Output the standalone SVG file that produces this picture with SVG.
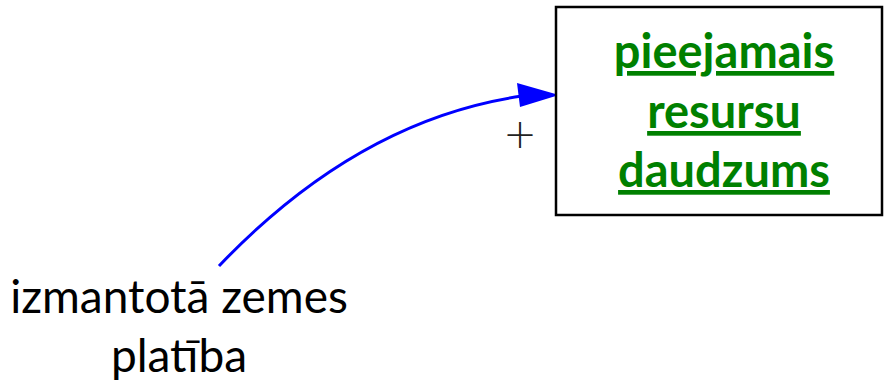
<svg xmlns="http://www.w3.org/2000/svg" width="884" height="386" viewBox="0 0 884 386">
<style>
.lbl{font-family:Lato,"Open Sans","Liberation Sans",sans-serif;font-size:46px;fill:#000;text-anchor:middle}
.stock{font-family:Lato,"Open Sans","Liberation Sans",sans-serif;font-size:47px;font-weight:bold;fill:#008000;text-anchor:middle;text-decoration:underline}
.pol{font-family:"DejaVu Sans","Liberation Sans",sans-serif;font-size:40px;font-weight:200;fill:#222;text-anchor:middle}
.box{fill:#fff;stroke:#000;stroke-width:2.5}
.link{fill:none;stroke:#0000ff;stroke-width:3}
.head{fill:#0000ff}
</style>
<rect width="884" height="386" fill="#fff"/>
<g id="connectors">
<path class="link" d="M219,266 Q358,120 522,96"/>
<polygon class="head" points="559,95 517,83 520,107"/>
<text class="pol" x="520" y="148">+</text>
</g>
<g id="node-pieejamais">
<rect class="box" x="556" y="7" width="326" height="208"/>
<text class="stock" x="724" y="68">pieejamais</text>
<text class="stock" x="724" y="128">resursu</text>
<text class="stock" x="724" y="187">daudzums</text>
</g>
<g id="node-izmantota">
<text class="lbl" x="179" y="313">izmantotā zemes</text>
<text class="lbl" x="179" y="372">platība</text>
</g>
</svg>
